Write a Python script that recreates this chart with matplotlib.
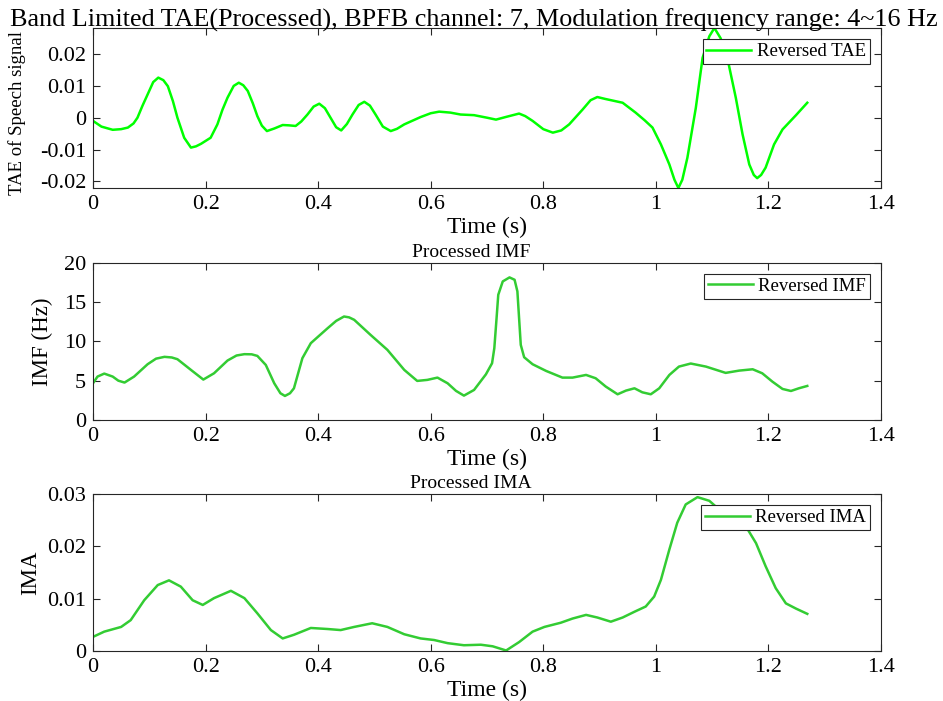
import matplotlib
matplotlib.use("Agg")
import matplotlib.pyplot as plt

plt.rcParams['font.family'] = ['Liberation Serif', 'DejaVu Serif']
plt.rcParams['mathtext.fontset'] = 'stix'

# ---- data ----
tae_t = [0.000, 0.015, 0.035, 0.050, 0.062, 0.072, 0.079, 0.088, 0.097, 0.107,
         0.116, 0.125, 0.133, 0.142, 0.150, 0.162, 0.174, 0.183, 0.192, 0.209,
         0.221, 0.230, 0.239, 0.250, 0.259, 0.267, 0.275, 0.284, 0.292, 0.300,
         0.309, 0.322, 0.337, 0.348, 0.360, 0.370, 0.381, 0.392, 0.402, 0.412,
         0.422, 0.432, 0.441, 0.451, 0.461, 0.472, 0.482, 0.492, 0.502, 0.515,
         0.529, 0.540, 0.553, 0.582, 0.600, 0.615, 0.635, 0.653, 0.677, 0.700,
         0.716, 0.735, 0.757, 0.768, 0.781, 0.800, 0.817, 0.832, 0.846, 0.870,
         0.884, 0.896, 0.910, 0.923, 0.941, 0.964, 0.980, 0.994, 1.009, 1.024,
         1.033, 1.040, 1.047, 1.056, 1.071, 1.083, 1.095, 1.104, 1.115, 1.127,
         1.142, 1.154, 1.166, 1.174, 1.180, 1.187, 1.195, 1.210, 1.225, 1.249,
         1.269]
tae_v = [-0.0010, -0.0028, -0.0038, -0.0036, -0.0031, -0.0018, 0.0000, 0.0038, 0.0073, 0.0112,
         0.0126, 0.0118, 0.0099, 0.0052, 0.0000, -0.0063, -0.0094, -0.0090, -0.0082, -0.0063,
         -0.0021, 0.0025, 0.0063, 0.0100, 0.0110, 0.0102, 0.0084, 0.0045, 0.0005, -0.0025,
         -0.0042, -0.0034, -0.0023, -0.0024, -0.0026, -0.0012, 0.0010, 0.0035, 0.0044, 0.0030,
         0.0000, -0.0030, -0.0040, -0.0020, 0.0010, 0.0040, 0.0050, 0.0038, 0.0010, -0.0028,
         -0.0042, -0.0035, -0.0021, 0.0002, 0.0014, 0.0019, 0.0016, 0.0010, 0.0008, 0.0000,
         -0.0006, 0.0003, 0.0013, 0.0005, -0.0010, -0.0036, -0.0047, -0.0040, -0.0021, 0.0026,
         0.0055, 0.0065, 0.0059, 0.0054, 0.0047, 0.0016, -0.0008, -0.0031, -0.0084, -0.0147,
         -0.0195, -0.0221, -0.0195, -0.0126, 0.0031, 0.0188, 0.0256, 0.0282, 0.0250, 0.0188,
         0.0063, -0.0052, -0.0147, -0.0180, -0.0190, -0.0180, -0.0157, -0.0084, -0.0037, 0.0008,
         0.0047]

imf_t = [0.000, 0.008, 0.020, 0.035, 0.045, 0.056, 0.073, 0.097, 0.112, 0.127,
         0.140, 0.150, 0.174, 0.196, 0.215, 0.239, 0.255, 0.269, 0.282, 0.292,
         0.307, 0.322, 0.333, 0.341, 0.350, 0.357, 0.372, 0.387, 0.400, 0.417,
         0.432, 0.446, 0.455, 0.464, 0.493, 0.523, 0.553, 0.576, 0.594, 0.612,
         0.630, 0.645, 0.659, 0.677, 0.698, 0.709, 0.713, 0.717, 0.720, 0.728,
         0.740, 0.749, 0.754, 0.757, 0.760, 0.766, 0.781, 0.805, 0.834, 0.852,
         0.876, 0.893, 0.911, 0.932, 0.947, 0.962, 0.976, 0.991, 1.006, 1.024,
         1.041, 1.062, 1.089, 1.124, 1.148, 1.172, 1.189, 1.207, 1.225, 1.240,
         1.254, 1.269]
imf_v = [4.67, 5.52, 5.90, 5.52, 5.00, 4.76, 5.52, 7.09, 7.80, 8.03,
         7.95, 7.73, 6.37, 5.14, 5.94, 7.56, 8.20, 8.37, 8.35, 8.15,
         7.00, 4.67, 3.40, 3.06, 3.40, 4.03, 7.86, 9.77, 10.60, 11.68,
         12.60, 13.16, 13.05, 12.74, 10.83, 8.92, 6.37, 4.97, 5.10, 5.39,
         4.67, 3.70, 3.10, 3.82, 5.80, 7.22, 9.13, 12.95, 15.92, 17.62,
         18.13, 17.83, 16.35, 12.95, 9.55, 7.98, 7.09, 6.24, 5.39, 5.39,
         5.73, 5.31, 4.25, 3.27, 3.74, 4.03, 3.52, 3.27, 4.03, 5.73,
         6.79, 7.18, 6.79, 5.99, 6.28, 6.45, 5.94, 4.88, 3.95, 3.69,
         4.03, 4.33]

ima_t = [0.000, 0.020, 0.050, 0.067, 0.091, 0.115, 0.135, 0.156, 0.177, 0.195,
         0.215, 0.245, 0.269, 0.292, 0.316, 0.337, 0.357, 0.387, 0.417, 0.440,
         0.464, 0.496, 0.523, 0.553, 0.582, 0.606, 0.630, 0.659, 0.689, 0.710,
         0.734, 0.757, 0.781, 0.802, 0.831, 0.852, 0.876, 0.896, 0.920, 0.941,
         0.962, 0.982, 0.997, 1.009, 1.024, 1.038, 1.053, 1.074, 1.095, 1.118,
         1.142, 1.160, 1.178, 1.195, 1.213, 1.231, 1.249, 1.269]
ima_v = [0.0027, 0.0037, 0.0046, 0.0059, 0.0097, 0.0126, 0.0135, 0.0123, 0.0097, 0.0088,
         0.0101, 0.0115, 0.0101, 0.0072, 0.0040, 0.0024, 0.0031, 0.0044, 0.0042, 0.0040,
         0.0046, 0.0053, 0.0046, 0.0032, 0.0024, 0.0021, 0.0015, 0.0011, 0.0012, 0.0009,
         0.0001, 0.0017, 0.0037, 0.0046, 0.0054, 0.0062, 0.0069, 0.0064, 0.0056, 0.0064,
         0.0075, 0.0085, 0.0104, 0.0136, 0.0194, 0.0245, 0.0280, 0.0294, 0.0287, 0.0265,
         0.0251, 0.0238, 0.0206, 0.0162, 0.0120, 0.0091, 0.0081, 0.0071]

x_ticks = [0, 0.2, 0.4, 0.6, 0.8, 1, 1.2, 1.4]
x_tick_labels = ['0', '0.2', '0.4', '0.6', '0.8', '1', '1.2', '1.4']
tae_ticks = [-0.02, -0.01, 0, 0.01, 0.02]
tae_tick_labels = ['-0.02', '-0.01', '0', '0.01', '0.02']
imf_ticks = [0, 5, 10, 15, 20]
imf_tick_labels = ['0', '5', '10', '15', '20']
ima_ticks = [0, 0.01, 0.02, 0.03]
ima_tick_labels = ['0', '0.01', '0.02', '0.03']

titles = ['Band Limited TAE(Processed), BPFB channel: 7, Modulation frequency range: 4~16 Hz',
          'Processed IMF', 'Processed IMA']
ylabels = ['TAE of Speech signal', 'IMF (Hz)', 'IMA']
legends = ['Reversed TAE', 'Reversed IMF', 'Reversed IMA']

# ---- figure ----
fig = plt.figure(figsize=(9.43, 7.01), dpi=100)
W, H = 943.0, 701.0
left, right = 93, 881
boxes = [(28, 188), (262.7, 420), (494, 651)]
axes = []
for top, bot in boxes:
    ax = fig.add_axes([left / W, 1 - bot / H, (right - left) / W, (bot - top) / H])
    axes.append(ax)

edge = '#262626'
series = [(tae_t, tae_v, '#00FF00'), (imf_t, imf_v, '#33CC33'), (ima_t, ima_v, '#33CC33')]
yt = [(tae_ticks, tae_tick_labels), (imf_ticks, imf_tick_labels), (ima_ticks, ima_tick_labels)]
title_sizes = [18.8, 14.0, 14.0]
title_x = [0.4835, 0.48, 0.48]
title_pad = [1.0, 4, 4]

for i, ax in enumerate(axes):
    t, v, c = series[i]
    ax.plot(t, v, color=c, lw=1.8, label=legends[i], solid_joinstyle='round')
    ax.set_xlim(0, 1.4)
    ax.set_xticks(x_ticks)
    ax.set_xticklabels(x_tick_labels)
    ax.set_yticks(yt[i][0])
    ax.set_yticklabels(yt[i][1])
    for s in ax.spines.values():
        s.set_color(edge)
        s.set_linewidth(0.8)
    ax.tick_params(direction='in', top=True, right=True, length=5, width=0.8,
                   color=edge, labelcolor='black', labelsize=16, pad=5)
    ax.set_xlabel('Time (s)', fontsize=17, labelpad=2)
    ttl = ax.set_title(titles[i], fontsize=title_sizes[i], pad=title_pad[i])
    ttl.set_x(title_x[i])
    leg = ax.legend(loc='upper right', fontsize=13.5, frameon=True, fancybox=False,
                    framealpha=1, edgecolor=edge, borderpad=0.2, handlelength=2.4,
                    handletextpad=0.3, borderaxespad=0.6)
    leg.get_frame().set_linewidth(0.8)

axes[0].set_ylim(min(tae_v), max(tae_v))
axes[1].set_ylim(0, 20)
axes[2].set_ylim(0, 0.03)

axes[0].set_ylabel(ylabels[0], fontsize=13.5, labelpad=7)
axes[0].yaxis.set_label_coords(-0.085, 0.47)
axes[1].set_ylabel(ylabels[1], fontsize=16.5, labelpad=8)
axes[2].set_ylabel(ylabels[2], fontsize=16.5, labelpad=4)

fig.savefig('out.png', dpi=100)
